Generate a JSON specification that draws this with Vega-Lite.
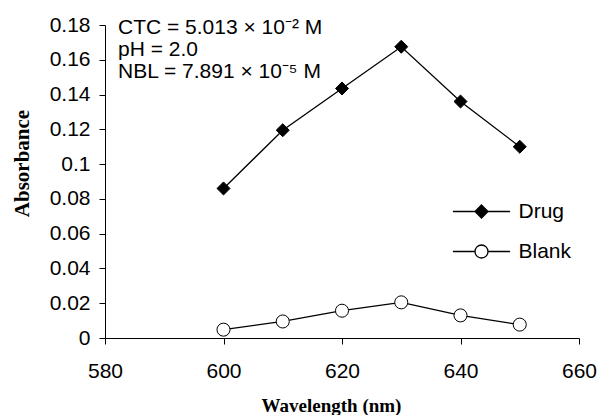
{
  "$schema": "https://vega.github.io/schema/vega-lite/v6.json",
  "width": 474,
  "height": 313,
  "autosize": {"type": "none"},
  "padding": {"left": 105, "top": 25, "right": 20, "bottom": 77},
  "background": "white",
  "title": {
    "text": ["CTC = 5.013 × 10⁻² M", "pH = 2.0", "NBL = 7.891 × 10⁻⁵ M"],
    "orient": "top",
    "anchor": "start",
    "frame": "group",
    "align": "left",
    "baseline": "alphabetic",
    "offset": 0,
    "dx": 13,
    "dy": 85,
    "font": "Liberation Sans",
    "fontSize": 21,
    "fontWeight": "normal",
    "lineHeight": 22,
    "color": "black"
  },
  "config": {
    "view": {"stroke": null},
    "font": "Liberation Sans",
    "axis": {
      "domainColor": "black",
      "tickColor": "black",
      "labelColor": "black",
      "titleColor": "black",
      "grid": false,
      "labelFont": "Liberation Sans",
      "labelFontSize": 21,
      "labelOverlap": false,
      "labelFlush": false,
      "labelBound": false,
      "titleFont": "Liberation Serif",
      "titleFontWeight": "bold",
      "tickSize": 6,
      "domainWidth": 1,
      "tickWidth": 1
    }
  },
  "data": {
    "values": [
      {"wavelength": 600, "absorbance": 0.086, "series": "Drug"},
      {"wavelength": 610, "absorbance": 0.1195, "series": "Drug"},
      {"wavelength": 620, "absorbance": 0.1435, "series": "Drug"},
      {"wavelength": 630, "absorbance": 0.1675, "series": "Drug"},
      {"wavelength": 640, "absorbance": 0.136, "series": "Drug"},
      {"wavelength": 650, "absorbance": 0.110, "series": "Drug"},
      {"wavelength": 600, "absorbance": 0.0048, "series": "Blank"},
      {"wavelength": 610, "absorbance": 0.0095, "series": "Blank"},
      {"wavelength": 620, "absorbance": 0.0157, "series": "Blank"},
      {"wavelength": 630, "absorbance": 0.0205, "series": "Blank"},
      {"wavelength": 640, "absorbance": 0.013, "series": "Blank"},
      {"wavelength": 650, "absorbance": 0.0077, "series": "Blank"}
    ]
  },
  "encoding": {
    "x": {
      "field": "wavelength", "type": "quantitative",
      "scale": {"domain": [580, 660], "nice": false, "zero": false},
      "axis": {
        "values": [580, 600, 620, 640, 660],
        "labelPadding": 16,
        "labelOverlap": false,
        "labelFlush": false,
        "title": "Wavelength (nm)",
        "titleFontSize": 19,
        "titleX": 226,
        "titleY": 73,
        "titleBaseline": "alphabetic",
        "titleAlign": "center"
      }
    },
    "y": {
      "field": "absorbance", "type": "quantitative",
      "scale": {"domain": [0, 0.18], "nice": false},
      "axis": {
        "values": [0, 0.02, 0.04, 0.06, 0.08, 0.1, 0.12, 0.14, 0.16, 0.18],
        "tickCount": 10,
        "format": "~g",
        "labelOverlap": false,
        "labelSeparation": 0,
        "labelPadding": 9,
        "title": "Absorbance",
        "titleFontSize": 21,
        "titleX": -77,
        "titleY": 138,
        "titleAngle": -90,
        "titleBaseline": "alphabetic",
        "titleAlign": "center"
      }
    }
  },
  "resolve": {"scale": {"shape": "independent"}},
  "layer": [
    {
      "mark": {"type": "line", "color": "black", "strokeWidth": 1.3},
      "encoding": {
        "detail": {"field": "series"}
      }
    },
    {
      "mark": {"type": "point", "filled": true, "stroke": "black", "strokeWidth": 1, "size": 170, "opacity": 1},
      "encoding": {
        "shape": {
          "field": "series", "type": "nominal",
          "scale": {"domain": ["Drug", "Blank"], "range": ["diamond", "circle"]},
          "legend": null
        },
        "fill": {
          "field": "series", "type": "nominal",
          "scale": {"domain": ["Drug", "Blank"], "range": ["black", "white"]},
          "legend": null
        }
      }
    },
    {
      "mark": {"type": "point", "filled": false, "stroke": "black", "strokeWidth": 1.3, "size": 169, "opacity": 0},
      "encoding": {
        "shape": {
          "field": "series", "type": "nominal",
          "scale": {
            "domain": ["Drug", "Blank"],
            "range": [
              "M-4.4,0H-1M1,0H4.4M0,-1L1,0L0,1L-1,0ZM0,-0.8L0.8,0L0,0.8L-0.8,0ZM0,-0.6L0.6,0L0,0.6L-0.6,0ZM0,-0.4L0.4,0L0,0.4L-0.4,0ZM0,-0.2L0.2,0L0,0.2L-0.2,0ZM-1,0H1M0,-1V1",
              "M-4.4,0H-1M1,0H4.4M1,0A1,1 0 1,1 -1,0A1,1 0 1,1 1,0Z"
            ]
          },
          "legend": {
            "title": null,
            "orient": "none",
            "legendX": 366,
            "legendY": 176,
            "padding": 0,
            "symbolSize": 169,
            "symbolStrokeWidth": 1.3,
            "symbolStrokeColor": "black",
            "symbolFillColor": "white",
            "symbolOpacity": 1,
            "labelFontSize": 21,
            "labelFont": "Liberation Sans",
            "labelColor": "black",
            "labelOffset": 26.5,
            "rowPadding": 18
          }
        }
      }
    }
  ]
}
